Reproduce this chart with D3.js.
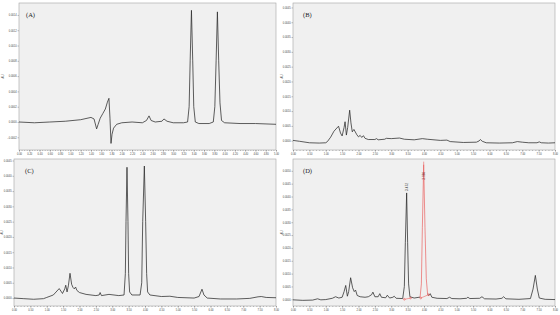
<!DOCTYPE html>
<html>
<head>
<meta charset="utf-8">
<script src="https://cdn.jsdelivr.net/npm/d3@7"></script>
<style>
  body { margin: 0; background: #fff; }
  svg { display: block; }
</style>
</head>
<body>
<svg id="chart" width="560" height="315"></svg>
<script>
// ---- data (time in min, AU) ----
const timeA = [0.00, 0.30, 0.60, 0.90, 1.20, 1.40, 1.46, 1.51, 1.54, 1.58, 1.63, 1.68, 1.72, 1.75, 1.77, 1.79, 1.81, 1.84, 1.90, 2.00, 2.20, 2.40, 2.48, 2.53, 2.57, 2.65, 2.78, 2.82, 2.88, 3.00, 3.20, 3.28, 3.31, 3.33, 3.355, 3.38, 3.40, 3.43, 3.50, 3.70, 3.78, 3.81, 3.835, 3.86, 3.885, 3.91, 3.94, 4.00, 4.30, 4.60, 5.00];
const auA   = [0.00000, -0.00001, 0.00000, 0.00001, 0.00003, 0.00006, 0.00004, -0.00009, -0.00003, 0.00005, 0.00011, 0.00017, 0.00026, 0.00031, 0.00005, -0.00028, -0.00016, -0.00008, -0.00003, -0.00001, 0.00000, -0.00001, 0.00002, 0.00008, 0.00002, 0.00000, 0.00001, 0.00004, 0.00001, -0.00001, -0.00001, 0.00000, 0.00020, 0.00080, 0.00146, 0.00080, 0.00020, 0.00000, -0.00002, -0.00002, 0.00000, 0.00020, 0.00080, 0.00144, 0.00080, 0.00025, 0.00002, -0.00001, -0.00002, -0.00002, -0.00003];

const timeB = [0.00, 0.20, 0.50, 0.80, 1.00, 1.05, 1.15, 1.25, 1.39, 1.45, 1.50, 1.56, 1.59, 1.63, 1.67, 1.73, 1.77, 1.81, 1.86, 1.95, 2.00, 2.05, 2.10, 2.15, 2.20, 2.30, 2.50, 2.55, 2.60, 2.80, 2.85, 3.00, 3.25, 3.40, 3.70, 3.95, 4.10, 4.50, 4.70, 4.80, 5.20, 5.60, 5.68, 5.72, 5.78, 5.90, 6.30, 6.70, 6.85, 7.00, 7.20, 7.45, 7.52, 7.58, 7.80, 8.00];
const auB   = [0.00001, -0.00002, -0.00007, -0.00008, -0.00007, -0.00003, 0.00012, 0.00032, 0.00049, 0.00026, 0.00016, 0.00045, 0.00064, 0.00019, 0.00045, 0.00103, 0.00060, 0.00030, 0.00038, 0.00020, 0.00013, 0.00018, 0.00011, 0.00017, 0.00008, 0.00004, 0.00004, 0.00007, 0.00003, 0.00005, 0.00008, 0.00007, 0.00009, 0.00005, 0.00003, 0.00007, 0.00005, 0.00001, 0.00002, -0.00003, -0.00006, -0.00005, -0.00001, 0.00004, -0.00002, -0.00007, -0.00008, -0.00007, -0.00003, -0.00005, -0.00007, -0.00007, -0.00004, -0.00007, -0.00008, -0.00007];

const timeC = [0.00, 0.30, 0.60, 0.90, 1.00, 1.20, 1.38, 1.45, 1.48, 1.55, 1.58, 1.62, 1.66, 1.71, 1.76, 1.80, 1.84, 1.88, 1.92, 2.00, 2.20, 2.50, 2.60, 2.63, 2.67, 2.90, 3.20, 3.36, 3.40, 3.42, 3.45, 3.48, 3.50, 3.53, 3.60, 3.85, 3.90, 3.93, 3.98, 4.02, 4.05, 4.08, 4.15, 4.50, 4.76, 5.00, 5.50, 5.65, 5.74, 5.80, 5.90, 6.30, 6.80, 7.20, 7.45, 7.55, 7.70, 8.00];
const auC   = [0.00000, -0.00002, -0.00004, -0.00002, 0.00002, 0.00010, 0.00031, 0.00020, 0.00015, 0.00030, 0.00042, 0.00020, 0.00040, 0.00081, 0.00045, 0.00035, 0.00030, 0.00036, 0.00025, 0.00018, 0.00012, 0.00008, 0.00010, 0.00018, 0.00008, 0.00012, 0.00008, 0.00010, 0.00080, 0.00250, 0.00428, 0.00250, 0.00080, 0.00020, 0.00010, 0.00010, 0.00050, 0.00250, 0.00432, 0.00250, 0.00080, 0.00020, 0.00010, 0.00005, 0.00006, 0.00002, 0.00000, 0.00005, 0.00029, 0.00010, 0.00000, -0.00003, -0.00003, -0.00001, 0.00004, 0.00005, 0.00002, 0.00001];

const timeD = [0.00, 0.30, 0.60, 0.75, 0.85, 1.00, 1.20, 1.30, 1.40, 1.50, 1.56, 1.61, 1.66, 1.70, 1.76, 1.82, 1.87, 1.91, 1.96, 2.05, 2.20, 2.30, 2.40, 2.44, 2.50, 2.60, 2.65, 2.70, 2.83, 2.88, 2.95, 3.05, 3.09, 3.15, 3.35, 3.40, 3.43, 3.47, 3.50, 3.53, 3.57, 3.70, 3.85, 3.88, 3.92, 3.95, 3.99, 4.03, 4.07, 4.11, 4.15, 4.19, 4.24, 4.40, 4.70, 4.78, 4.85, 5.10, 5.30, 5.34, 5.40, 5.70, 5.77, 5.85, 6.20, 6.38, 6.43, 6.50, 6.90, 7.25, 7.33, 7.40, 7.46, 7.52, 7.70, 8.00];
const auD   = [-0.00002, -0.00004, -0.00003, 0.00002, -0.00002, -0.00001, 0.00004, 0.00010, 0.00005, 0.00008, 0.00030, 0.00054, 0.00012, 0.00030, 0.00084, 0.00045, 0.00030, 0.00036, 0.00015, 0.00010, 0.00008, 0.00010, 0.00018, 0.00028, 0.00010, 0.00010, 0.00022, 0.00008, 0.00006, 0.00016, 0.00005, 0.00008, 0.00012, 0.00004, 0.00003, 0.00050, 0.00220, 0.00414, 0.00220, 0.00060, 0.00010, 0.00005, 0.00008, 0.00008, 0.00060, 0.00280, 0.00524, 0.00280, 0.00080, 0.00020, 0.00015, 0.00022, 0.00008, 0.00004, 0.00003, 0.00008, 0.00003, 0.00002, 0.00004, 0.00008, 0.00003, 0.00004, 0.00010, 0.00002, 0.00001, 0.00004, 0.00010, 0.00002, 0.00000, 0.00003, 0.00040, 0.00093, 0.00040, 0.00005, 0.00000, -0.00001];

// integrated (red) peak in D and its baseline marks
const redStart = 3.88, redEnd = 4.11;
const baseTimes = [3.40, 3.59, 3.90, 4.14];
const baseAU    = [0.00000, 0.00005, 0.00005, 0.00018];
const peakTimes  = [3.47, 3.99];
const apexAU     = [0.00414, 0.00524];
const peakLabels = ["3.472", "3.986"];

const ticksA  = [-0.0002, 0, 0.0002, 0.0004, 0.0006, 0.0008, 0.0010, 0.0012, 0.0014];
const ticksB  = [0, 0.0005, 0.0010, 0.0015, 0.0020, 0.0025, 0.0030, 0.0035, 0.0040, 0.0045];
const ticksD  = [0, 0.0005, 0.0010, 0.0015, 0.0020, 0.0025, 0.0030, 0.0035, 0.0040, 0.0045, 0.0050];
const xTicks5 = d3.range(0, 5.0001, 0.2);
const xTicks8 = d3.range(0, 8.0001, 0.5);

const RED = '#ea4a48';
const svg = d3.select('#chart');
let clipId = 0;

function drawPanel(p) {
  const x = d3.scaleLinear().domain(p.xDomain).range([p.left, p.right]);
  const y = d3.scaleLinear().domain(p.yDomain).range([p.bottom, p.top]);
  const g = svg.append('g');

  g.append('rect')
    .attr('x', p.left).attr('y', p.top)
    .attr('width', p.right - p.left).attr('height', p.bottom - p.top)
    .attr('fill', '#f0f0f0')
    .attr('stroke', '#a4a4a4')
    .attr('stroke-width', 0.6);

  const yAxis = g.append('g')
    .attr('transform', `translate(${p.left},0)`)
    .call(d3.axisLeft(y).tickValues(p.yTicks).tickFormat(d3.format('.4f')).tickSize(1.5).tickPadding(0.8));

  const minor = g.append('g')
    .attr('transform', `translate(0,${p.bottom})`)
    .call(d3.axisBottom(x).tickValues(d3.range(p.xDomain[0], p.xDomain[1] + 1e-6, p.minorStep)).tickFormat('').tickSize(1));

  const xAxis = g.append('g')
    .attr('transform', `translate(0,${p.bottom})`)
    .call(d3.axisBottom(x).tickValues(p.xTicks).tickFormat(d3.format('.2f')).tickSize(1.8).tickPadding(1));

  [yAxis, minor, xAxis].forEach(a => {
    a.select('.domain').remove();
    a.selectAll('line').attr('stroke', '#666').attr('stroke-width', 0.4);
    a.selectAll('text')
      .attr('fill', '#444')
      .style('font-family', 'Liberation Sans, Arial, sans-serif')
      .style('font-size', '2.6px');
  });

  g.append('text')
    .attr('transform', `translate(${p.titleX},${(p.top + p.bottom) / 2}) rotate(-90)`)
    .attr('text-anchor', 'middle')
    .attr('fill', '#444')
    .style('font-family', 'Liberation Sans, Arial, sans-serif')
    .style('font-size', '2.8px')
    .text('AU');

  const id = 'clip' + (clipId++);
  g.append('clipPath').attr('id', id)
    .append('rect')
    .attr('x', p.left).attr('y', p.top)
    .attr('width', p.right - p.left).attr('height', p.bottom - p.top);

  const line = d3.line().x(d => x(d[0])).y(d => y(d[1]));
  const plot = g.append('g').attr('clip-path', `url(#${id})`);

  const skip = p.skip || (() => true);
  plot.append('path')
    .datum(d3.zip(p.time, p.au))
    .attr('d', d3.line().defined(skip).x(d => x(d[0])).y(d => y(d[1])))
    .attr('fill', 'none')
    .attr('stroke', '#2a2a2a')
    .attr('stroke-width', 0.75)
    .attr('stroke-linejoin', 'round');

  g.append('text')
    .attr('x', p.left + p.labelDx).attr('y', p.top + 14)
    .attr('fill', '#222')
    .style('font-family', 'Liberation Serif, Times New Roman, serif')
    .style('font-size', '6.5px')
    .text(p.name);

  return { x, y, plot, line };
}

drawPanel({ name: '(A)', left: 19, right: 276, top: 3, bottom: 150, labelDx: 7, titleX: 4,
  xDomain: [0, 5], yDomain: [-0.000366, 0.001556], yTicks: ticksA, xTicks: xTicks5, minorStep: 0.05,
  time: timeA, au: auA });

drawPanel({ name: '(B)', left: 293, right: 555, top: 3, bottom: 150, labelDx: 10, titleX: 283,
  xDomain: [0, 8], yDomain: [-0.000314, 0.00465], yTicks: ticksB, xTicks: xTicks8, minorStep: 0.1,
  time: timeB, au: auB });

drawPanel({ name: '(C)', left: 14, right: 276, top: 159, bottom: 306, labelDx: 11, titleX: 3,
  xDomain: [0, 8], yDomain: [-0.00026, 0.00455], yTicks: ticksB, xTicks: xTicks8, minorStep: 0.1,
  time: timeC, au: auC });

const pd = drawPanel({ name: '(D)', left: 293, right: 555, top: 159, bottom: 306, labelDx: 10, titleX: 283,
  xDomain: [0, 8], yDomain: [-0.00026, 0.00546], yTicks: ticksD, xTicks: xTicks8, minorStep: 0.1,
  time: timeD, au: auD, skip: d => d[0] <= redStart || d[0] >= redEnd });

// red integrated peak of D
const redPts = d3.zip(timeD, auD).filter(d => d[0] >= redStart && d[0] <= redEnd);
pd.plot.append('path')
  .datum(redPts)
  .attr('d', pd.line)
  .attr('fill', 'none')
  .attr('stroke', RED)
  .attr('stroke-width', 0.6);

// apex tick of the red peak
pd.plot.append('line')
  .attr('x1', pd.x(peakTimes[1])).attr('x2', pd.x(peakTimes[1]))
  .attr('y1', pd.y(apexAU[1])).attr('y2', pd.y(apexAU[1]) - 3)
  .attr('stroke', RED).attr('stroke-width', 0.5);

// baselines drawn under the two integrated peaks
const basePts = d3.zip(baseTimes, baseAU);
[[0, 1], [2, 3]].forEach(([a, b]) => {
  pd.plot.append('line')
    .attr('x1', pd.x(basePts[a][0])).attr('y1', pd.y(basePts[a][1]))
    .attr('x2', pd.x(basePts[b][0])).attr('y2', pd.y(basePts[b][1]))
    .attr('stroke', RED).attr('stroke-width', 0.5);
});
pd.plot.selectAll('circle.base')
  .data(basePts)
  .join('circle')
  .attr('class', 'base')
  .attr('cx', d => pd.x(d[0])).attr('cy', d => pd.y(d[1]))
  .attr('r', 0.9)
  .attr('fill', 'none')
  .attr('stroke', RED)
  .attr('stroke-width', 0.5);

// retention time labels
pd.plot.selectAll('text.rt')
  .data(peakTimes)
  .join('text')
  .attr('class', 'rt')
  .attr('transform', (d, i) => i === 0
    ? `translate(${pd.x(d) + 1},${pd.y(apexAU[i]) - 2}) rotate(-90)`
    : `translate(${pd.x(d) + 1},${pd.y(apexAU[i]) + 15}) rotate(-90)`)
  .attr('fill', (d, i) => i === 0 ? '#333' : '#7a2a2a')
  .style('font-family', 'Liberation Sans, Arial, sans-serif')
  .style('font-size', '3.2px')
  .text((d, i) => peakLabels[i]);
</script>
</body>
</html>
